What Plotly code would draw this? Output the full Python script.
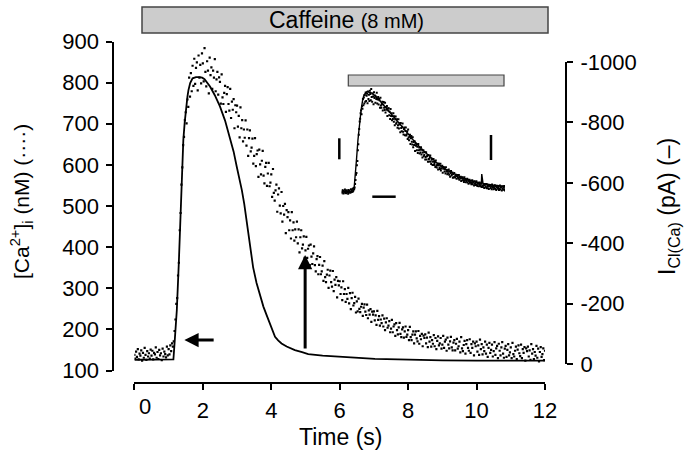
import plotly.graph_objects as go

# [Ca2+]i samples (nM), one every 0.025 s starting at t = 0
ca_t0 = 0.0
ca_dt = 0.025
ca_nM = [
    138, 129, 146, 133, 152, 127, 141, 136, 149, 124, 143, 131, 155, 138, 126, 147, 134, 142, 129, 151,
    136, 148, 127, 143, 139, 156, 131, 145, 128, 150, 137, 142, 125, 153, 134, 146, 140, 132, 158, 137,
    152, 139, 161, 147, 166, 158, 171, 196, 224, 262, 276, 331, 362, 441, 483, 552, 594, 648, 668, 709,
    728, 701, 759, 741, 812, 766, 823, 779, 841, 792, 858, 797, 836, 849, 781, 866, 812, 843, 798, 871,
    847, 803, 884, 826, 791, 852, 829, 774, 861, 818, 837, 785, 829, 812, 857, 779, 808, 826, 771, 813,
    802, 749, 820, 764, 748, 775, 792, 729, 772, 789, 748, 732, 785, 714, 754, 734, 760, 689, 745, 728,
    744, 693, 719, 667, 740, 689, 709, 657, 686, 666, 708, 647, 686, 622, 665, 684, 633, 642, 664, 603,
    622, 665, 597, 626, 635, 571, 637, 601, 577, 610, 634, 574, 555, 595, 605, 549, 579, 605, 548, 557,
    577, 522, 590, 532, 513, 538, 552, 486, 528, 543, 501, 482, 534, 462, 500, 479, 505, 434, 490, 473,
    485, 441, 465, 421, 485, 441, 460, 416, 443, 424, 462, 409, 443, 387, 424, 441, 397, 406, 426, 374,
    392, 425, 374, 396, 404, 356, 406, 377, 359, 385, 402, 356, 341, 371, 378, 334, 357, 376, 334, 341,
    355, 318, 366, 327, 315, 333, 345, 301, 331, 343, 315, 304, 342, 293, 321, 308, 327, 278, 318, 307,
    317, 286, 302, 271, 317, 286, 298, 267, 286, 274, 301, 263, 288, 249, 276, 289, 258, 264, 279, 241,
    268, 244, 275, 250, 242, 255, 262, 233, 253, 261, 243, 235, 260, 227, 246, 236, 249, 218, 243, 236,
    244, 222, 234, 211, 245, 223, 232, 209, 224, 215, 234, 207, 226, 198, 217, 227, 204, 209, 220, 193,
    202, 223, 193, 207, 212, 184, 215, 198, 188, 205, 216, 189, 181, 200, 205, 180, 195, 207, 182, 187,
    198, 174, 206, 181, 174, 187, 195, 166, 187, 195, 178, 171, 196, 165, 184, 176, 189, 159, 185, 179,
    188, 166, 180, 157, 192, 170, 181, 158, 174, 165, 186, 159, 179, 152, 172, 183, 161, 166, 179, 153,
    163, 184, 155, 170, 175, 148, 180, 163, 154, 171, 182, 156, 149, 168, 174, 149, 165, 177, 153, 159,
    170, 144, 181, 154, 147, 162, 172, 141, 164, 174, 155, 148, 176, 143, 164, 155, 170, 137, 166, 159,
    170, 146, 161, 138, 175, 152, 164, 139, 156, 147, 170, 141, 163, 133, 155, 167, 143, 150, 163, 134,
    147, 169, 138, 154, 160, 130, 165, 148, 137, 156, 169, 141, 131, 153, 160, 133, 150, 164, 137, 144,
    156, 130, 167, 140, 134, 148, 158, 128, 151, 161, 142, 135, 163, 130, 152, 143, 157, 124, 154, 147,
    158, 134, 149, 126, 164, 141, 152, 128, 145, 136, 160, 131, 153, 122, 145, 157, 133, 140, 154, 125,
    148,
]
ca_t = [ca_t0 + i * ca_dt for i in range(len(ca_nM))]

# ICl(Ca) current (pA)
icl_t = [0, 1.10, 1.14, 1.18, 1.24, 1.30, 1.35, 1.39, 1.43, 1.47, 1.51, 1.55, 1.58, 1.63, 1.70,
         1.80, 1.90, 1.98, 2.05, 2.21, 2.35, 2.50, 2.65, 2.79, 2.90, 2.99, 3.07, 3.14, 3.21, 3.30,
         3.38, 3.47, 3.57, 3.67, 3.77, 3.87, 3.96, 4.04, 4.11, 4.20, 4.30, 4.45, 4.69, 4.90, 5.08,
         5.50, 6.06, 6.50, 7.03, 7.70, 8.35, 9.00, 10.0, 11.0, 12.0]
icl_pA = [-14, -14, -15, -79, -179, -340, -510, -632, -742, -800, -852, -885, -907, -930, -946,
          -950, -950, -948, -943, -919, -890, -853, -806, -753, -703, -654, -615, -576, -530, -455,
          -377, -320, -268, -225, -190, -160, -135, -110, -90, -78, -68, -58, -46, -39, -33,
          -28, -24, -21, -17, -15, -13, -12, -11, -11, -11]

# inset: scaled current trace overlaid on [Ca2+]i
inset_t = [0.45, 1.06, 1.12, 1.17, 1.25, 1.33, 1.42, 1.50, 1.58, 1.66, 1.82, 2.09, 2.53, 2.96, 3.43,
           3.88, 4.33, 4.75, 5.24, 5.67, 6.14, 6.59, 7.04, 7.51, 7.95, 8.02, 8.04, 8.07, 8.11, 8.60, 9.30]
inset_v = [140, 140, 160, 225, 370, 514, 640, 732, 800, 841, 865, 855, 797, 732, 659,
           587, 514, 453, 393, 341, 297, 264, 237, 217, 201, 200, 268, 201, 199, 188, 176]

ca_ticks = [100, 200, 300, 400, 500, 600, 700, 800, 900]
icl_ticks = [0, -200, -400, -600, -800, -1000]
time_ticks = [0, 2, 4, 6, 8, 10, 12]

W, H = 690, 459
FONT = "Liberation Sans, Arial, sans-serif"


def px(x):
    return x / W


def py(y):
    return 1 - y / H


fig = go.Figure()
fig.add_trace(go.Scatter(x=ca_t, y=ca_nM, mode="markers", xaxis="x", yaxis="y",
                         marker=dict(size=2.2, color="black", symbol="square")))
fig.add_trace(go.Scatter(x=icl_t, y=icl_pA, mode="lines", xaxis="x", yaxis="y2",
                         line=dict(color="black", width=1.8)))
fig.add_trace(go.Scatter(x=ca_t, y=ca_nM, mode="markers", xaxis="x3", yaxis="y3",
                         marker=dict(size=2, color="black", symbol="square")))
fig.add_trace(go.Scatter(x=inset_t, y=inset_v, mode="lines", xaxis="x3", yaxis="y3",
                         line=dict(color="black", width=1.4)))

axis_common = dict(showline=True, linecolor="black", linewidth=2, ticks="outside",
                   ticklen=6, tickwidth=2, tickcolor="black", showgrid=False, zeroline=False,
                   automargin=False,
                   tickfont=dict(family=FONT, size=22, color="black"))

fig.update_layout(
    width=W, height=H, margin=dict(l=0, r=0, t=0, b=0, autoexpand=False),
    paper_bgcolor="white", plot_bgcolor="rgba(0,0,0,0)", showlegend=False,
    font=dict(family=FONT, color="black"),
    xaxis=dict(domain=[px(134.4), px(545)], range=[0, 12], anchor="free", position=py(383),
               tickvals=time_ticks, ticktext=[""] + [str(v) for v in time_ticks[1:]],
               ticklabelstandoff=2, **axis_common),
    yaxis=dict(domain=[py(370.5), py(41.5)], range=[100, 900], anchor="free", position=px(113.3),
               tickvals=ca_ticks, ticklabelstandoff=3, **axis_common),
    yaxis2=dict(domain=[py(364), py(62)], range=[0, -1000], anchor="free", position=px(566),
                side="right", tickvals=icl_ticks, ticktext=[str(v) for v in icl_ticks],
                ticklabelstandoff=3, **axis_common),
    xaxis3=dict(domain=[px(341.7), px(505)], range=[0.45, 9.3], visible=False, anchor="y3",
                automargin=False),
    yaxis3=dict(domain=[py(197.2), py(86.8)], range=[100, 900], visible=False, anchor="x3",
                automargin=False),
)

shapes = [
    # caffeine bar
    dict(type="rect", xref="paper", yref="paper", x0=px(142), x1=px(548), y0=py(33), y1=py(7),
         fillcolor="#cccccc", line=dict(color="#444444", width=1.5)),
    # inset caffeine bar
    dict(type="rect", xref="paper", yref="paper", x0=px(348.3), x1=px(504), y0=py(86), y1=py(75),
         fillcolor="#cccccc", line=dict(color="#444444", width=1.2)),
    # inset scale bars
    dict(type="line", xref="paper", yref="paper", x0=px(339.3), x1=px(339.3), y0=py(159.3), y1=py(138.3),
         line=dict(color="black", width=2.5)),
    dict(type="line", xref="paper", yref="paper", x0=px(491), x1=px(491), y0=py(160), y1=py(135),
         line=dict(color="black", width=2.5)),
    dict(type="line", xref="paper", yref="paper", x0=px(372.3), x1=px(395.7), y0=py(196.7), y1=py(196.7),
         line=dict(color="black", width=2.5)),
]
fig.update_layout(shapes=shapes)

label = dict(xref="paper", yref="paper", showarrow=False, xanchor="center", yanchor="middle")
annotations = [
    dict(text="Caffeine <span style='font-size:20px'>(8 mM)</span>", x=px(346), y=py(20),
         font=dict(size=23), **label),
    dict(text="0", x=px(145), y=py(406), font=dict(size=22), **label),
    dict(text="Time (s)", x=px(340), y=py(437), font=dict(size=23), **label),
    dict(text="[Ca<sup>2+</sup>]<sub>i</sub> (nM) (····)", x=px(22), y=py(202),
         textangle=-90, font=dict(size=21), **label),
    dict(text="I<sub>Cl(Ca)</sub> (pA) (–)", x=px(669), y=py(207),
         textangle=-90, font=dict(size=23), **label),
    # arrows
    dict(x=1.46, y=174, ax=2.36, ay=174, xref="x", yref="y", axref="x", ayref="y", text="",
         showarrow=True, arrowhead=2, arrowsize=0.95, arrowwidth=3, arrowcolor="black"),
    dict(x=4.99, y=381, ax=4.99, ay=150, xref="x", yref="y", axref="x", ayref="y", text="",
         showarrow=True, arrowhead=2, arrowsize=0.95, arrowwidth=3, arrowcolor="black"),
]
fig.update_layout(annotations=annotations)

# drop the page's default body margin so the figure sits at the window's corner
fig.write_html("out.html", config={"displayModeBar": False},
               post_script="document.body.style.margin='0px';")
